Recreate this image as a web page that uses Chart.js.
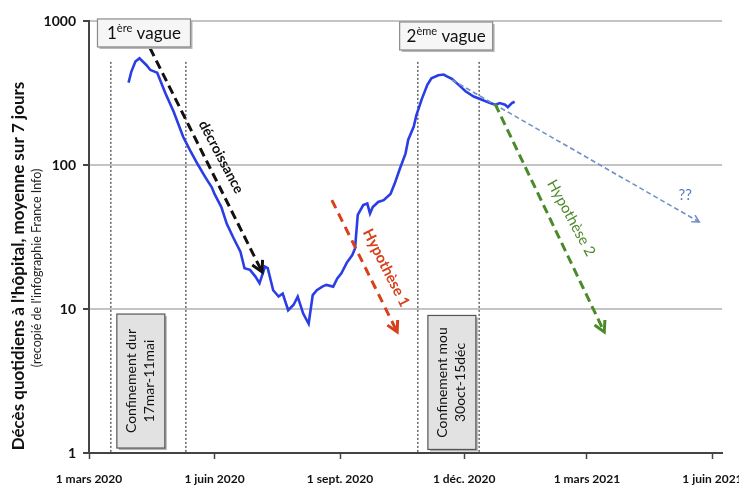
<!DOCTYPE html>
<html><head><meta charset="utf-8">
<script src="https://cdn.jsdelivr.net/npm/chart.js@4.4.1/dist/chart.umd.min.js"></script>
<style>html,body{margin:0;padding:0;background:#fff}#wrap{width:739px;height:485px}</style>
</head><body><div id="wrap"><canvas id="c" width="739" height="485"></canvas></div>
<script>
// Jours écoulés depuis le 1er mars 2020
const jours = [29,31,34,37,42,45,48,50,56,62,69,74,80,85,90,92,97,101,106,111,114,118,122,125,129,131,135,139,142,146,150,153,157,161,164,167,171,174,179,182,185,189,193,195,197,201,204,206,208,212,216,221,224,228,232,234,238,240,244,248,251,256,260,262,266,271,276,282,288,294,298,301,305,307,310,312];
// Décès quotidiens à l'hôpital (moyenne 7 jours)
const deces = [373,444,523,551,495,457,445,437,315,235,157,127,100,83,70,63,51,39,31,25,19.2,18.7,16.8,15.1,19.7,19.2,13.5,12.2,12.8,9.8,10.7,12.2,9.3,7.9,12.5,13.5,14.3,14.7,14.3,16.3,17.7,21,23.7,26.3,45,52.7,54,46,51,55.4,57,63,74,95,120,150,184,222,288,360,400,420,425,414,396,360,325,299,284,269,262,269,262,252,269,275];
const xTickJours = [0,92,184,275,365,457];
const xTickLabels = ["1 mars 2020","1 juin 2020","1 sept. 2020","1 déc. 2020","1 mars 2021","1 juin 2021"];
const yTicks = [1,10,100,1000];
// Lignes de confinement (jours) et leur sommet (valeur)
const confinementJours = [16,71,241,286];
const confinementHaut = 520;
// Boîtes de confinement : [jour centre, valeur centre]
const confinementLabels = [["Confinement dur","17mar-11mai"],["Confinement mou","30oct-15déc"]];
const confinementCentres = [[38,3.16],[266,3.09]];
// Vagues : [numéro, exposant, jour centre, valeur centre]
const vagues = [["1","ère",40.3,826],["2","ème",261.8,787]];
// Flèches : [jour début, valeur début, jour fin, valeur fin]
const fleches = {
  decroissance: [44.7,649,126.9,18.1],
  hypothese1: [178,57.1,225.9,6.92],
  hypothese2: [297.7,265,377.7,6.92],
  inconnu: [266.2,389,447.3,40.2]
};
// Étiquettes : [texte, jour, valeur]
const etiquettes = [["décroissance",96.8,113.6],["Hypothèse 1",217.8,19.3],["Hypothèse 2",353.5,42.9],["??",437,61.9]];

const FONT = "Lato, 'Open Sans', sans-serif";

function arrow(ctx,x1,y1,x2,y2,color,w,dash,head){
  ctx.save();
  ctx.strokeStyle=color; ctx.lineWidth=w; ctx.setLineDash(dash); ctx.lineCap='butt';
  ctx.beginPath(); ctx.moveTo(x1,y1); ctx.lineTo(x2,y2); ctx.stroke();
  const a=Math.atan2(y2-y1,x2-x1);
  ctx.setLineDash([]);
  ctx.beginPath();
  ctx.moveTo(x2-head*Math.cos(a-0.5),y2-head*Math.sin(a-0.5));
  ctx.lineTo(x2,y2);
  ctx.lineTo(x2-head*Math.cos(a+0.5),y2-head*Math.sin(a+0.5));
  ctx.stroke();
  ctx.restore();
}
function rotText(ctx,txt,x,y,ang,font,color){
  ctx.save(); ctx.translate(x,y); ctx.rotate(ang);
  ctx.font=font; ctx.fillStyle=color; ctx.textAlign='center'; ctx.textBaseline='middle';
  ctx.fillText(txt,0,0); ctx.restore();
}
function box(ctx,cx,cy,w,h,fill,stroke){
  ctx.save();
  ctx.fillStyle='#b5b5b5'; ctx.fillRect(cx-w/2+2,cy-h/2+2,w,h);
  ctx.fillStyle=fill; ctx.fillRect(cx-w/2,cy-h/2,w,h);
  ctx.strokeStyle=stroke; ctx.lineWidth=1.2; ctx.strokeRect(cx-w/2,cy-h/2,w,h);
  ctx.restore();
}

const annot = {
  id:'annot',
  beforeDatasetsDraw(chart){
    const ctx=chart.ctx, X=v=>chart.scales.x.getPixelForValue(v), Y=v=>chart.scales.y.getPixelForValue(v);
    ctx.save(); ctx.strokeStyle='#666'; ctx.lineWidth=1.5; ctx.setLineDash([2,2]);
    confinementJours.forEach(j=>{ctx.beginPath(); ctx.moveTo(X(j),Y(confinementHaut)); ctx.lineTo(X(j),chart.chartArea.bottom); ctx.stroke();});
    ctx.restore();
  },
  afterDatasetsDraw(chart){
    const ctx=chart.ctx, X=v=>chart.scales.x.getPixelForValue(v), Y=v=>chart.scales.y.getPixelForValue(v);
    const P=f=>[X(f[0]),Y(f[1]),X(f[2]),Y(f[3])];
    let p=P(fleches.inconnu); arrow(ctx,...p,'#7090c8',1.6,[5,3],8);
    p=P(fleches.decroissance); arrow(ctx,...p,'#111',3,[9,5],12);
    p=P(fleches.hypothese1); arrow(ctx,...p,'#d8401c',3,[9,6],12);
    p=P(fleches.hypothese2); arrow(ctx,...p,'#4b8a2a',3,[9,5],12);
    const styles=[["bold 14px "+FONT,'#111',1.085],["bold 15px "+FONT,'#d8401c',1.1],["15px "+FONT,'#4b8a2a',1.07],["15px "+FONT,'#5a78c8',0]];
    etiquettes.forEach((e,i)=>rotText(ctx,e[0],X(e[1]),Y(e[2]),styles[i][2],styles[i][0],styles[i][1]));
    // vagues
    vagues.forEach(v=>{
      const cx=X(v[2]), cy=Y(v[3]);
      box(ctx,cx,cy,93,28,'#f6f6f6','#8a8a8a');
      ctx.save(); ctx.fillStyle='#111'; ctx.textBaseline='alphabetic'; ctx.textAlign='left';
      const big="17px "+FONT, small="11px "+FONT;
      ctx.font=big; const w1=ctx.measureText(v[0]).width, w3=ctx.measureText(" vague").width;
      ctx.font=small; const w2=ctx.measureText(v[1]).width;
      let x=cx-(w1+w2+w3)/2, y=cy+6;
      ctx.font=big; ctx.fillText(v[0],x,y); x+=w1;
      ctx.font=small; ctx.fillText(v[1],x,y-7); x+=w2;
      ctx.font=big; ctx.fillText(" vague",x,y);
      ctx.restore();
    });
    confinementLabels.forEach((l,i)=>{
      const cx=X(confinementCentres[i][0]), cy=Y(confinementCentres[i][1]);
      box(ctx,cx,cy,48,134,'#e2e2e2','#555');
      ctx.save(); ctx.translate(cx,cy); ctx.rotate(-Math.PI/2);
      ctx.font="14px "+FONT; ctx.fillStyle='#111'; ctx.textAlign='center'; ctx.textBaseline='middle';
      ctx.fillText(l[0],0,-9); ctx.fillText(l[1],0,9); ctx.restore();
    });
  },
  afterDraw(chart){
    const ctx=chart.ctx;
    rotText(ctx,"Décès quotidiens à l'hôpital, moyenne sur 7 jours",19,266,-Math.PI/2,"bold 17px "+FONT,'#111');
    rotText(ctx,"(recopié de l'infographie France Info)",37,268,-Math.PI/2,"12.5px "+FONT,'#222');
  }
};

new Chart(document.getElementById('c'),{
  type:'line',
  data:{datasets:[{data:jours.map((j,i)=>({x:j,y:deces[i]})),borderColor:'#2b3ee6',borderWidth:2.6,pointRadius:0,tension:0,fill:false}]},
  options:{
    responsive:false, animation:false,
    layout:{padding:{top:21,right:17,left:0,bottom:0}},
    plugins:{legend:{display:false},tooltip:{enabled:false}},
    scales:{
      x:{type:'linear',min:0,max:464,
        afterBuildTicks(s){s.ticks=xTickJours.map(v=>({value:v}));},
        afterFit(s){s.height=32;s.paddingLeft=0;s.paddingRight=0;},
        ticks:{callback:(v)=>xTickLabels[xTickJours.indexOf(v)],font:{family:FONT,size:12,weight:'bold'},color:'#111',padding:13,maxRotation:0,autoSkip:false},
        grid:{drawOnChartArea:false,tickLength:6,tickColor:'#444',tickWidth:1.5},
        border:{color:'#444',width:2}
      },
      y:{type:'logarithmic',min:1,max:1000,
        afterBuildTicks(s){s.ticks=yTicks.map(v=>({value:v}));},
        afterFit(s){s.width=89;s.paddingTop=0;s.paddingBottom=0;},
        ticks:{callback:(v)=>String(v),font:{family:FONT,size:14,weight:'bold'},color:'#111',padding:7},
        grid:{color:'#c4c4c4',lineWidth:2,tickLength:6,tickColor:'#444'},
        border:{color:'#444',width:2}
      }
    }
  },
  plugins:[annot]
});
</script></body></html>
